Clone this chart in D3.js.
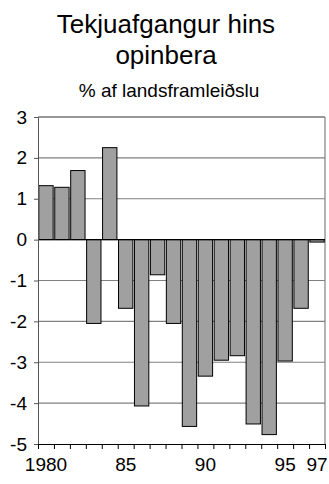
<!DOCTYPE html>
<html>
<head>
<meta charset="utf-8">
<script src="https://cdn.jsdelivr.net/npm/d3@7"></script>
<style>
  body { margin: 0; background: #fff; }
  svg text { font-family: "Liberation Sans", Arial, sans-serif; }
</style>
</head>
<body>
<div id="wrapper"></div>
<script>
// data
const years = d3.range(1980, 1998)
const surplus = [1.32, 1.28, 1.69, -2.05, 2.25, -1.68, -4.07, -0.86, -2.05, -4.57,
                 -3.34, -2.95, -2.84, -4.51, -4.77, -2.97, -1.68, -0.06]
const yTicks = [-5, -4, -3, -2, -1, 0, 1, 2, 3]
const xLabels = {1980: "1980", 1985: "85", 1990: "90", 1995: "95", 1997: "97"}

const dimensions = {
  width: 329,
  height: 484,
  margin: { top: 117, right: 4, bottom: 40, left: 38 },
}
dimensions.boundedWidth = dimensions.width - dimensions.margin.left - dimensions.margin.right
dimensions.boundedHeight = dimensions.height - dimensions.margin.top - dimensions.margin.bottom

const wrapper = d3.select("#wrapper")
  .append("svg")
    .attr("width", dimensions.width)
    .attr("height", dimensions.height)

// titles
wrapper.append("text")
    .attr("x", 166).attr("y", 33)
    .attr("text-anchor", "middle")
    .style("font-size", "26px")
    .text("Tekjuafgangur hins")
wrapper.append("text")
    .attr("x", 166).attr("y", 64)
    .attr("text-anchor", "middle")
    .style("font-size", "26px")
    .text("opinbera")
wrapper.append("text")
    .attr("x", 169).attr("y", 97)
    .attr("text-anchor", "middle")
    .style("font-size", "19px")
    .text("% af landsframleiðslu")

const bounds = wrapper.append("g")
    .attr("transform", `translate(${dimensions.margin.left},${dimensions.margin.top})`)

// scales
const xScale = d3.scaleBand()
  .domain(years)
  .range([0, dimensions.boundedWidth])
  .paddingInner(0.1)
  .paddingOuter(0.05)

const xEdges = d3.scaleLinear()
  .domain([0, years.length])
  .range([0, dimensions.boundedWidth])

const yScale = d3.scaleLinear()
  .domain([-5, 3])
  .range([dimensions.boundedHeight, 0])

// gridlines
bounds.append("g")
  .selectAll("line")
  .data(yTicks.filter(d => d !== 0 && d !== -5))
  .join("line")
    .attr("x1", 0)
    .attr("x2", dimensions.boundedWidth)
    .attr("y1", d => yScale(d))
    .attr("y2", d => yScale(d))
    .attr("stroke", d => d === 3 ? "#333" : "#808080")
    .attr("stroke-width", 1.2)

// right border
bounds.append("line")
    .attr("x1", dimensions.boundedWidth).attr("x2", dimensions.boundedWidth)
    .attr("y1", 0).attr("y2", dimensions.boundedHeight)
    .attr("stroke", "#808080")
    .attr("stroke-width", 1.2)

// bars
bounds.append("g")
  .selectAll("rect")
  .data(surplus)
  .join("rect")
    .attr("x", (d, i) => xScale(years[i]))
    .attr("y", d => yScale(Math.max(0, d)))
    .attr("width", xScale.bandwidth())
    .attr("height", d => Math.abs(yScale(d) - yScale(0)))
    .attr("fill", "#a0a0a0")
    .attr("stroke", "#000")
    .attr("stroke-width", 1)

// zero line
bounds.append("line")
    .attr("x1", 0).attr("x2", dimensions.boundedWidth)
    .attr("y1", yScale(0)).attr("y2", yScale(0))
    .attr("stroke", "#000")
    .attr("stroke-width", 1.2)

// y axis
const yAxis = bounds.append("g")
  .call(d3.axisLeft(yScale).tickValues(yTicks).tickSize(4).tickSizeOuter(0).tickFormat(d => String(d)))
yAxis.selectAll("text")
    .style("font-size", "19px")
    .attr("fill", "#000")
    .attr("x", -11)
yAxis.selectAll("line").attr("stroke", "#555")
yAxis.select(".domain").attr("stroke", "#555")

// x axis ticks at band edges
const xTickAxis = bounds.append("g")
  .attr("transform", `translate(0,${dimensions.boundedHeight})`)
  .call(d3.axisBottom(xEdges).tickValues(d3.range(0, years.length + 1)).tickSize(5).tickSizeOuter(0).tickFormat(""))
xTickAxis.selectAll("line").attr("stroke", "#000")
xTickAxis.select(".domain").attr("stroke", "#000")

// x labels
const xLabelAxis = bounds.append("g")
  .attr("transform", `translate(0,${dimensions.boundedHeight})`)
  .call(d3.axisBottom(xScale)
    .tickValues(years.filter(y => xLabels[y]))
    .tickSize(0)
    .tickFormat(y => xLabels[y]))
xLabelAxis.select(".domain").remove()
xLabelAxis.selectAll("text")
    .style("font-size", "19px")
    .attr("fill", "#000")
    .attr("dy", null)
    .attr("y", 27)
</script>
</body>
</html>
